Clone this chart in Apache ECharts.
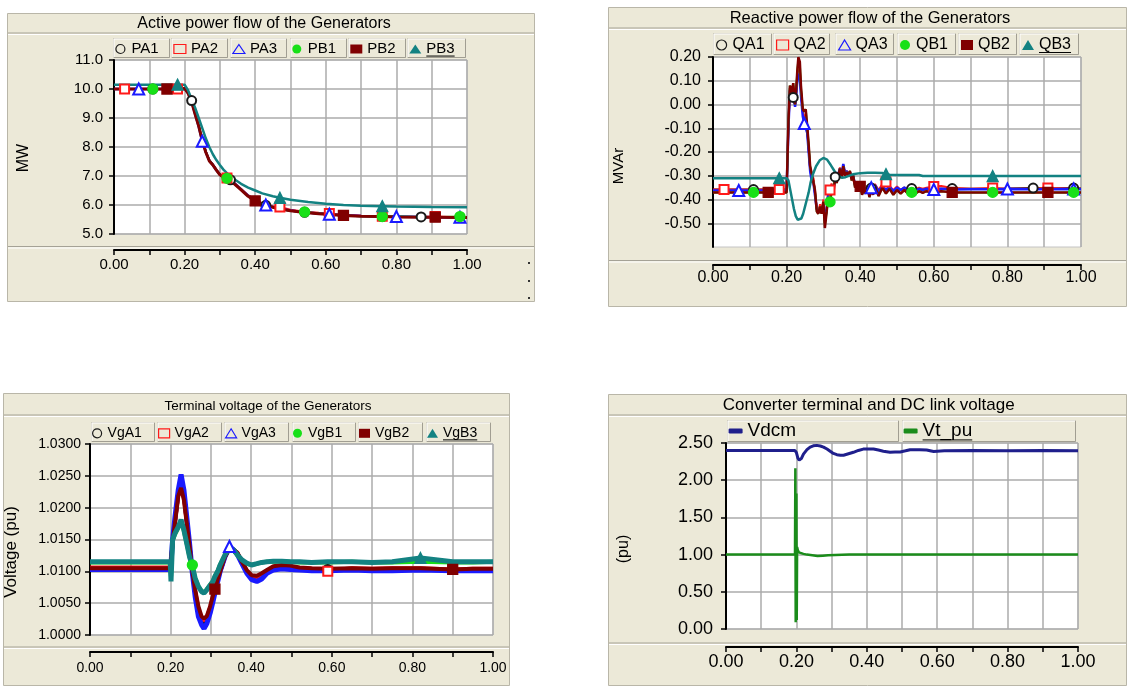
<!DOCTYPE html>
<html>
<head>
<meta charset="utf-8">
<script src="https://cdn.jsdelivr.net/npm/echarts/dist/echarts.min.js"></script>
<style>
  html, body { margin: 0; padding: 0; background: #ffffff; }
  #chart { width: 1127px; height: 686px; }
</style>
</head>
<body>
<div id="chart"></div>
<script>
// ---------------- Active power flow (MW) ----------------
const tP = [0,0.03,0.07,0.11,0.15,0.18,0.2,0.21,0.22,0.23,0.24,0.25,0.26,0.27,0.28,0.29,0.3,0.31,0.32,0.33,0.34,0.36,0.38,0.4,0.42,0.43,0.45,0.47,0.5,0.54,0.58,0.61,0.65,0.7,0.76,0.8,0.87,0.91,0.98,1];
const PA1 = [10,10,10,10,10,10,10.02,9.88,9.6,9.15,8.75,8.25,7.85,7.55,7.4,7.22,7.06,6.97,6.93,6.87,6.75,6.53,6.31,6.15,6.03,5.99,5.93,5.87,5.8,5.75,5.7,5.67,5.64,5.62,5.6,5.6,5.59,5.58,5.58,5.57];
const PA2 = [10,10,10,10,10,10,10.02,9.86,9.57,9.14,8.73,8.23,7.84,7.54,7.39,7.21,7.05,6.97,6.93,6.92,6.78,6.56,6.34,6.18,6.06,6.02,5.96,5.93,5.84,5.77,5.73,5.71,5.66,5.63,5.61,5.6,5.59,5.6,5.58,5.58];
const PA3 = [10,10,10,10,10,10,10.02,9.86,9.56,9.13,8.7,8.2,7.83,7.53,7.38,7.2,7.05,6.98,6.93,6.87,6.76,6.54,6.32,6.15,6.03,6,5.93,5.87,5.81,5.75,5.71,5.68,5.65,5.62,5.6,5.6,5.59,5.58,5.58,5.57];
const PB1 = [10,10,10,10,10,10,10.02,9.86,9.56,9.13,8.72,8.22,7.83,7.53,7.38,7.2,7.04,6.96,6.92,6.88,6.75,6.53,6.31,6.15,6.03,5.99,5.92,5.86,5.8,5.76,5.71,5.68,5.64,5.61,5.6,5.6,5.59,5.58,5.6,5.58];
const PB2 = [10,10,10,10,10,10,10.02,9.85,9.55,9.12,8.72,8.22,7.82,7.52,7.38,7.2,7.04,6.96,6.92,6.86,6.74,6.52,6.3,6.14,6.02,5.99,5.92,5.86,5.8,5.74,5.7,5.67,5.64,5.61,5.6,5.59,5.58,5.58,5.57,5.57];
const tPB3 = [0,0.18,0.2,0.21,0.22,0.23,0.24,0.25,0.26,0.27,0.28,0.29,0.3,0.31,0.32,0.33,0.34,0.36,0.38,0.4,0.42,0.45,0.47,0.5,0.55,0.6,0.65,0.7,0.76,0.8,0.9,1];
const PB3 = [10.15,10.15,10.15,9.95,9.65,9.35,9,8.65,8.3,8,7.75,7.55,7.38,7.22,7.1,7,6.9,6.73,6.6,6.5,6.4,6.3,6.25,6.18,6.1,6.04,6,5.97,5.96,5.95,5.93,5.92];

// ---------------- Reactive power flow (MVAr) ----------------
const tQ = [0,0.03,0.07,0.11,0.15,0.18,0.2,0.205,0.209,0.214,0.218,0.223,0.226,0.229,0.232,0.236,0.239,0.244,0.248,0.252,0.256,0.26,0.264,0.268,0.273,0.277,0.282,0.286,0.291,0.295,0.3,0.304,0.309,0.313,0.318,0.322,0.327,0.332,0.336,0.341,0.345,0.35,0.354,0.359,0.363,0.368,0.372,0.377,0.381,0.386,0.39,0.395,0.4,0.405,0.41,0.415,0.42,0.425,0.43,0.435,0.44,0.45,0.46,0.47,0.48,0.49,0.5,0.51,0.52,0.53,0.54,0.55,0.56,0.57,0.58,0.6,0.62,0.65,0.7,0.76,0.8,0.87,0.91,0.98,1];
const QA1 = [-0.358,-0.358,-0.358,-0.358,-0.358,-0.358,-0.358,
  -0.08,0.07,0.03,0.03,0,0.05,0.12,0.16,0.14,
  0.06,-0.03,-0.06,-0.08,-0.11,-0.19,-0.27,-0.31,-0.32,-0.37,
  -0.44,-0.45,-0.43,-0.45,-0.41,-0.5,-0.44,-0.385,-0.38,-0.345,
  -0.365,-0.305,-0.325,-0.295,-0.27,-0.3,-0.255,-0.295,-0.28,-0.295,
  -0.285,-0.31,-0.3,-0.34,-0.33,-0.355,-0.34,-0.37,-0.35,-0.365,
  -0.345,-0.375,-0.352,-0.365,-0.34,-0.37,-0.345,-0.362,-0.35,-0.368,
  -0.352,-0.362,-0.35,-0.36,-0.354,-0.36,-0.355,-0.36,-0.355,-0.356,
  -0.355,-0.354,-0.355,-0.355,-0.354,-0.352,-0.354,-0.352,-0.354];
const QA2 = [-0.358,-0.358,-0.358,-0.358,-0.358,-0.358,-0.358,
  -0.09,0.07,0.04,0.08,0,0.05,0.13,0.18,0.15,
  0.05,-0.03,-0.05,-0.07,-0.1,-0.18,-0.27,-0.3,-0.31,-0.36,
  -0.44,-0.45,-0.42,-0.45,-0.4,-0.5,-0.43,-0.37,-0.36,-0.333,
  -0.36,-0.3,-0.32,-0.29,-0.265,-0.3,-0.255,-0.29,-0.28,-0.29,
  -0.28,-0.305,-0.3,-0.335,-0.325,-0.35,-0.335,-0.36,-0.345,-0.36,
  -0.34,-0.365,-0.35,-0.36,-0.335,-0.36,-0.335,-0.326,-0.345,-0.36,
  -0.345,-0.36,-0.35,-0.355,-0.35,-0.356,-0.35,-0.355,-0.35,-0.345,
  -0.343,-0.352,-0.355,-0.352,-0.355,-0.355,-0.352,-0.355,-0.355];
const QA3 = [-0.362,-0.362,-0.362,-0.362,-0.362,-0.362,-0.362,
  -0.1,0.06,0.02,0.07,-0.01,0.04,0.1,0.13,0.11,
  0.04,-0.05,-0.08,-0.1,-0.12,-0.2,-0.28,-0.32,-0.33,-0.38,
  -0.44,-0.45,-0.44,-0.45,-0.42,-0.49,-0.44,-0.38,-0.37,-0.34,
  -0.36,-0.3,-0.32,-0.29,-0.27,-0.29,-0.25,-0.29,-0.28,-0.295,
  -0.285,-0.31,-0.3,-0.34,-0.33,-0.35,-0.34,-0.365,-0.35,-0.36,
  -0.345,-0.37,-0.35,-0.36,-0.34,-0.365,-0.345,-0.36,-0.345,-0.365,
  -0.35,-0.36,-0.35,-0.36,-0.355,-0.362,-0.355,-0.36,-0.355,-0.358,
  -0.355,-0.358,-0.357,-0.357,-0.356,-0.357,-0.357,-0.356,-0.357];
const QB1 = [-0.37,-0.37,-0.37,-0.37,-0.37,-0.37,-0.37,
  -0.07,0.08,0.05,0.09,0,0.06,0.14,0.19,0.17,
  0.07,-0.02,-0.03,-0.02,-0.09,-0.17,-0.26,-0.29,-0.29,-0.36,
  -0.45,-0.46,-0.43,-0.46,-0.41,-0.51,-0.45,-0.39,-0.41,-0.38,
  -0.375,-0.31,-0.33,-0.3,-0.27,-0.31,-0.26,-0.3,-0.285,-0.3,
  -0.28,-0.32,-0.3,-0.35,-0.33,-0.36,-0.345,-0.38,-0.36,-0.375,
  -0.35,-0.39,-0.36,-0.38,-0.345,-0.385,-0.35,-0.375,-0.355,-0.38,
  -0.36,-0.375,-0.36,-0.375,-0.37,-0.375,-0.365,-0.372,-0.365,-0.37,
  -0.365,-0.37,-0.37,-0.37,-0.37,-0.37,-0.37,-0.37,-0.37];
const QB2 = [-0.37,-0.37,-0.37,-0.37,-0.37,-0.37,-0.37,
  -0.07,0.08,0.05,0.09,0,0.06,0.14,0.2,0.18,
  0.08,-0.02,-0.03,-0.02,-0.09,-0.17,-0.26,-0.29,-0.29,-0.36,
  -0.45,-0.46,-0.43,-0.46,-0.41,-0.52,-0.45,-0.39,-0.41,-0.355,
  -0.375,-0.31,-0.33,-0.3,-0.27,-0.31,-0.26,-0.3,-0.285,-0.3,
  -0.28,-0.32,-0.3,-0.35,-0.33,-0.36,-0.345,-0.38,-0.36,-0.375,
  -0.35,-0.39,-0.36,-0.38,-0.345,-0.385,-0.35,-0.375,-0.355,-0.38,
  -0.36,-0.375,-0.36,-0.375,-0.365,-0.375,-0.365,-0.372,-0.365,-0.37,
  -0.365,-0.37,-0.37,-0.37,-0.37,-0.37,-0.37,-0.37,-0.37];
const tQB3 = [0,0.18,0.2,0.205,0.21,0.215,0.22,0.225,0.23,0.235,0.24,0.245,0.25,0.255,0.26,0.265,0.27,0.28,0.29,0.3,0.31,0.32,0.33,0.34,0.35,0.36,0.38,0.4,0.42,0.44,0.46,0.47,0.48,0.5,0.56,0.57,0.6,0.76,0.8,1];
const QB3 = [-0.31,-0.31,-0.31,-0.32,-0.36,-0.4,-0.44,-0.47,-0.485,-0.49,-0.48,-0.46,-0.43,-0.4,-0.37,-0.33,-0.3,-0.26,-0.235,-0.225,-0.232,-0.255,-0.28,-0.3,-0.308,-0.306,-0.294,-0.289,-0.287,-0.287,-0.288,-0.293,-0.296,-0.297,-0.297,-0.301,-0.301,-0.301,-0.301,-0.301];
const QTICKS = [-0.5,-0.4,-0.3,-0.2,-0.1,0,0.1,0.2];

// ---------------- Terminal voltage (pu) ----------------
const tV = [0,0.05,0.1,0.15,0.199,0.201,0.205,0.211,0.219,0.226,0.233,0.24,0.247,0.254,0.261,0.269,0.277,0.283,0.29,0.298,0.305,0.31,0.317,0.323,0.335,0.346,0.356,0.366,0.377,0.389,0.401,0.414,0.426,0.439,0.455,0.476,0.497,0.52,0.55,0.59,0.65,0.7,0.75,0.82,0.9,0.95,1];
const VgA1 = [1.0104,1.0104,1.0104,1.0104,1.0104,1.0113,1.0147,1.018,1.0222,1.024,1.022,1.018,1.0141,1.0099,1.0066,1.0037,1.0022,1.0018,1.0024,1.004,1.0057,1.0069,1.0086,1.01,1.0123,1.0137,1.0134,1.0128,1.0114,1.01,1.0091,1.0089,1.0093,1.01,1.0105,1.0107,1.0106,1.0104,1.0103,1.0103,1.0104,1.0103,1.0103,1.0104,1.0102,1.0103,1.0103];
const VgA2 = [1.0106,1.0106,1.0106,1.0106,1.0106,1.0114,1.0146,1.0178,1.022,1.0236,1.0216,1.0178,1.014,1.01,1.0069,1.0041,1.0026,1.0023,1.0028,1.0043,1.006,1.0071,1.0087,1.01,1.0123,1.0136,1.0134,1.0129,1.0115,1.0101,1.0093,1.0091,1.0095,1.0101,1.0106,1.0108,1.0107,1.0105,1.0104,1.01,1.0105,1.0104,1.0105,1.0105,1.0103,1.0104,1.0104];
const VgA3 = [1.0103,1.0103,1.0103,1.0103,1.0103,1.0112,1.015,1.0186,1.0228,1.0252,1.0228,1.0186,1.0144,1.0097,1.006,1.0029,1.0016,1.001,1.0018,1.0034,1.0052,1.0066,1.0084,1.01,1.0123,1.0139,1.0134,1.0126,1.0112,1.0097,1.0087,1.0084,1.0088,1.0097,1.0102,1.0104,1.0103,1.0102,1.0101,1.0101,1.0102,1.0101,1.0101,1.0102,1.0101,1.0101,1.0101];
const VgB1 = [1.0114,1.0114,1.0114,1.0114,1.0114,1.009,1.0148,1.0158,1.0168,1.0178,1.0163,1.0143,1.0122,1.011,1.009,1.0077,1.0069,1.0067,1.0072,1.0079,1.0085,1.0093,1.0101,1.0111,1.0126,1.0135,1.0133,1.0125,1.0117,1.0112,1.011,1.0112,1.0114,1.0115,1.0115,1.0116,1.0115,1.0114,1.0114,1.0114,1.0115,1.0114,1.0114,1.0115,1.0114,1.0114,1.0115];
const VgB2 = [1.0105,1.0105,1.0105,1.0105,1.0105,1.0115,1.0145,1.0176,1.0218,1.0231,1.0212,1.0176,1.0139,1.01,1.0071,1.0045,1.0029,1.0026,1.003,1.0045,1.0062,1.0072,1.0088,1.01,1.0123,1.0135,1.0134,1.0129,1.0115,1.0102,1.0094,1.0093,1.0097,1.0102,1.0108,1.011,1.0109,1.0106,1.0105,1.0104,1.0105,1.0104,1.0105,1.0105,1.0103,1.0104,1.0104];
const VgB3 = [1.0115,1.0115,1.0115,1.0115,1.0115,1.0084,1.015,1.016,1.017,1.0181,1.0165,1.0144,1.0123,1.0108,1.0089,1.0076,1.0068,1.0066,1.0071,1.0078,1.0084,1.0092,1.01,1.011,1.0126,1.0136,1.0134,1.0126,1.0118,1.0113,1.011,1.0112,1.0114,1.0115,1.0116,1.0116,1.0115,1.0115,1.0114,1.0115,1.0115,1.0114,1.0115,1.0121,1.0115,1.0115,1.0115];

// ---------------- Converter terminal / DC link voltage (pu) ----------------
const tD = [0,0.1,0.19,0.196,0.2,0.204,0.208,0.214,0.22,0.23,0.239,0.248,0.258,0.268,0.277,0.287,0.296,0.305,0.315,0.325,0.334,0.348,0.362,0.376,0.39,0.405,0.419,0.433,0.447,0.466,0.48,0.495,0.51,0.523,0.55,0.57,0.59,0.62,0.7,0.8,0.9,1];
const Vdcm = [2.4,2.4,2.4,2.4,2.37,2.3,2.27,2.29,2.35,2.41,2.445,2.462,2.468,2.46,2.445,2.42,2.39,2.36,2.343,2.335,2.335,2.355,2.375,2.4,2.418,2.42,2.419,2.405,2.39,2.375,2.378,2.38,2.395,2.41,2.41,2.406,2.385,2.395,2.398,2.397,2.398,2.397];
const tT = [0,0.1,0.19,0.196,0.197,0.198,0.199,0.2,0.201,0.202,0.204,0.207,0.212,0.22,0.23,0.245,0.26,0.275,0.29,0.31,0.35,0.4,0.5,0.6,0.7,0.8,0.9,1];
const Vt_pu = [1,1,1,1,2.16,0.09,1.2,1.82,0.12,1.1,1.06,1.03,1.02,1.01,1,0.99,0.98,0.985,0.99,0.995,1,1,1,1,1,1,1,1];

// Times at which each trace carries its marker symbol
const MARK = {
  A1: [0.11, 0.22, 0.33, 0.43, 0.54, 0.65, 0.76, 0.87, 0.98],
  A2: [0.03, 0.18, 0.32, 0.47, 0.61, 0.76, 0.91],
  A3: [0.07, 0.25, 0.43, 0.61, 0.8, 0.98],
  B1: [0.11, 0.32, 0.54, 0.76, 0.98],
  B2: [0.15, 0.4, 0.65, 0.91],
  B3: [0.18, 0.47, 0.76]
};
const MARK_V = { A1: [0.59], A2: [0.59], A3: [0.346], B1: [0.254], B2: [0.31, 0.9], B3: [0.82] };

// ---------------- styling ----------------
const FONT = '"Liberation Sans", Arial, sans-serif';
const BEIGE = '#ece9d8';
const COLOR = { A1: '#1a1a1a', A2: '#ff1a1a', A3: '#1a1aff', B1: '#18e018', B2: '#800000', B3: '#138282', DC: '#1f1f8c', VT: '#1b8c1b' };
const SHAPE = { A1: 'emptyCircle', A2: 'emptyRect', A3: 'emptyTriangle', B1: 'circle', B2: 'rect', B3: 'triangle' };
const LEG_ICON = { A1: 'circle', A2: 'rect', A3: 'triangle', B1: 'circle', B2: 'rect', B3: 'triangle', DC: 'roundRect', VT: 'roundRect' };
const SYM_SIZE = { A1: 9, A2: 9, A3: 11, B1: 10, B2: 10, B3: 11 };

const panels = [
  {
    box: { x: 7, y: 13, w: 528, h: 289 }, titleLine: 33,
    title: 'Active power flow of the Generators', titleX: 264, titleY: 23.5, titleSize: 16,
    grid: { left: 114, top: 60, width: 353, height: 174 }, sepY: 246.5,
    xOffset: 16, xMargin: 7, tickSize: 15, yMargin: 11,
    y: { min: 5, max: 11, interval: 1, digits: 1 },
    yName: 'MW', yNameX: 24, yNameY: 158, yNameSize: 16,
    legend: { size: 15, lh: 18, top: 40, y0: 38, y1: 58, iw: 12, ih: 9, dx: 2.3,
      boxes: [[113, 170], [171, 228], [230, 287], [290, 347], [348, 406], [407, 466]] },
    series: [
      { name: 'PA1', key: 'A1', t: tP, v: PA1, width: 2 },
      { name: 'PA2', key: 'A2', t: tP, v: PA2, width: 2 },
      { name: 'PA3', key: 'A3', t: tP, v: PA3, width: 2.5 },
      { name: 'PB1', key: 'B1', t: tP, v: PB1, width: 2 },
      { name: 'PB2', key: 'B2', t: tP, v: PB2, width: 3 },
      { name: 'PB3', key: 'B3', t: tPB3, v: PB3, width: 2.5 }
    ]
  },
  {
    box: { x: 608, y: 7, w: 519, h: 300 }, titleLine: 28,
    title: 'Reactive power flow of the Generators', titleX: 870, titleY: 18.3, titleSize: 16.5,
    grid: { left: 713, top: 57, width: 368, height: 190 }, sepY: 260.5,
    xOffset: 18, xMargin: 5, tickSize: 16, yMargin: 12,
    y: { min: -0.6, max: 0.2, interval: 0.1, digits: 2, hideBelow: -0.55, ticks: QTICKS },
    yName: 'MVAr', yNameX: 619, yNameY: 166, yNameSize: 15,
    legend: { size: 16, lh: 19, top: 35.5, y0: 33, y1: 55, iw: 12, ih: 10, dx: 3,
      boxes: [[713, 772], [773, 830], [835, 894], [897, 956], [958, 1017], [1019, 1079]] },
    series: [
      { name: 'QA1', key: 'A1', t: tQ, v: QA1, width: 2 },
      { name: 'QA2', key: 'A2', t: tQ, v: QA2, width: 2 },
      { name: 'QA3', key: 'A3', t: tQ, v: QA3, width: 2.5 },
      { name: 'QB1', key: 'B1', t: tQ, v: QB1, width: 2 },
      { name: 'QB2', key: 'B2', t: tQ, v: QB2, width: 2.5 },
      { name: 'QB3', key: 'B3', t: tQB3, v: QB3, width: 2.5 }
    ]
  },
  {
    box: { x: 3, y: 393, w: 507, h: 293 }, titleLine: 415,
    title: 'Terminal voltage of the Generators', titleX: 268, titleY: 406, titleSize: 13.5,
    grid: { left: 90, top: 444, width: 403, height: 191 }, sepY: 647,
    xOffset: 17, xMargin: 9, tickSize: 14, yMargin: 9,
    y: { min: 1.0, max: 1.03, interval: 0.005, digits: 4 },
    yName: 'Voltage (pu)', yNameX: 11, yNameY: 552, yNameSize: 17,
    legend: { size: 14, lh: 17, top: 424.8, y0: 422, y1: 442, iw: 11, ih: 9, dx: 1,
      boxes: [[91, 155], [157, 222], [224, 289], [292, 356], [358, 423], [426, 491]] },
    marks: MARK_V,
    series: [
      { name: 'VgA1', key: 'A1', t: tV, v: VgA1, width: 4 },
      { name: 'VgA2', key: 'A2', t: tV, v: VgA2, width: 4 },
      { name: 'VgA3', key: 'A3', t: tV, v: VgA3, width: 5 },
      { name: 'VgB1', key: 'B1', t: tV, v: VgB1, width: 4 },
      { name: 'VgB2', key: 'B2', t: tV, v: VgB2, width: 4 },
      { name: 'VgB3', key: 'B3', t: tV, v: VgB3, width: 5 }
    ]
  },
  {
    box: { x: 608, y: 394, w: 519, h: 292 }, titleLine: 415,
    title: 'Converter terminal and DC link voltage', titleX: 868.7, titleY: 405.7, titleSize: 17,
    grid: { left: 726, top: 443, width: 352, height: 186 }, sepY: 643,
    xOffset: 18, xMargin: 6, tickSize: 18, yMargin: 13,
    y: { min: 0, max: 2.5, interval: 0.5, digits: 2 },
    yName: '(pu)', yNameX: 624, yNameY: 549, yNameSize: 16,
    legend: { size: 19, lh: 22, top: 420, y0: 420, y1: 442, iw: 14, ih: 5, dx: 1.6,
      boxes: [[727, 899], [902, 1076]] },
    series: [
      { name: 'Vdcm', key: 'DC', t: tD, v: Vdcm, width: 3 },
      { name: 'Vt_pu', key: 'VT', t: tT, v: Vt_pu, width: 2.5 }
    ]
  }
];

// index of the sample nearest to each marker time
function nearestIndices(t, times) {
  const s = new Set();
  times.forEach(m => {
    let best = 0;
    t.forEach((x, i) => { if (Math.abs(x - m) < Math.abs(t[best] - m)) best = i; });
    s.add(best);
  });
  return s;
}

const measureCtx = document.createElement('canvas').getContext('2d');
function textWidth(txt, size) {
  measureCtx.font = size + 'px "Liberation Sans"';
  return measureCtx.measureText(txt).width;
}

function hline(x1, x2, y, color, w) {
  return { type: 'line', z: -9, silent: true, shape: { x1: x1, y1: y, x2: x2, y2: y }, style: { stroke: color, lineWidth: w || 1 } };
}

const grids = [], xAxes = [], yAxes = [], series = [], legends = [], graphics = [];

panels.forEach((p, pi) => {
  const b = p.box;
  // panel frame
  graphics.push({ type: 'rect', z: -10, silent: true,
    shape: { x: b.x + 0.5, y: b.y + 0.5, width: b.w - 1, height: b.h - 1 },
    style: { fill: BEIGE, stroke: '#b9b6a8', lineWidth: 1 } });
  graphics.push(hline(b.x + 1, b.x + b.w - 1, p.titleLine, '#a5a296'));
  graphics.push(hline(b.x + 1, b.x + b.w - 1, p.titleLine + 1.5, '#ffffff'));
  graphics.push(hline(b.x + 1, b.x + b.w - 1, p.sepY, '#a5a296'));
  graphics.push(hline(b.x + 1, b.x + b.w - 1, p.sepY + 1.5, '#ffffff'));
  graphics.push({ type: 'text', z: 5, silent: true, x: p.titleX, y: p.titleY,
    style: { text: p.title, fontSize: p.titleSize, fontFamily: FONT, fill: '#000', align: 'center', verticalAlign: 'middle' } });
  graphics.push({ type: 'text', z: 5, silent: true, x: p.yNameX, y: p.yNameY, rotation: Math.PI / 2,
    style: { text: p.yName, fontSize: p.yNameSize, fontFamily: FONT, fill: '#000', align: 'center', verticalAlign: 'middle' } });

  grids.push(Object.assign({ show: true, backgroundColor: '#ffffff', borderColor: '#c4c4c4', borderWidth: 1, containLabel: false }, p.grid));

  xAxes.push({
    gridIndex: pi, type: 'value', min: 0, max: 1, interval: 0.1, offset: p.xOffset,
    axisLine: { show: true, onZero: false, lineStyle: { color: '#000', width: 2 } },
    axisTick: { show: true, length: 5, lineStyle: { color: '#000', width: 1.5 } },
    axisLabel: { fontSize: p.tickSize, fontFamily: FONT, color: '#000', margin: p.xMargin,
      formatter: v => (Math.round(v * 10) % 2 === 0 ? v.toFixed(2) : '') },
    splitLine: { show: true, lineStyle: { color: '#ababab', width: 1.5 } }
  });

  const yc = p.y;
  const yTick = { show: true, length: 5, lineStyle: { color: '#000', width: 1.5 } };
  if (yc.ticks) yTick.customValues = yc.ticks;
  yAxes.push({
    gridIndex: pi, type: 'value', min: yc.min, max: yc.max, interval: yc.interval,
    axisLine: { show: true, onZero: false, lineStyle: { color: '#000', width: 2 } },
    axisTick: yTick,
    axisLabel: { fontSize: p.tickSize, fontFamily: FONT, color: '#000', margin: p.yMargin,
      formatter: v => {
        if (yc.hideBelow !== undefined && v < yc.hideBelow) return '';
        if (Math.abs(v) < 1e-9) v = 0;
        return v.toFixed(yc.digits);
      } },
    splitLine: { show: true, lineStyle: { color: '#ababab', width: 1.5 } }
  });

  const marksTable = p.marks || MARK;
  const lg = p.legend;
  p.series.forEach((s, si) => {
    const color = COLOR[s.key];
    const shape = SHAPE[s.key];
    const marks = shape ? nearestIndices(s.t, marksTable[s.key] || []) : new Set();
    series.push({
      type: 'line', name: s.name, xAxisIndex: pi, yAxisIndex: pi,
      data: s.t.map((x, i) => [x, s.v[i]]),
      symbol: (val, params) => (marks.has(params.dataIndex) ? shape : 'none'),
      symbolSize: SYM_SIZE[s.key] || 8,
      showSymbol: true,
      lineStyle: { color: color, width: s.width },
      itemStyle: { color: color, borderColor: color, borderWidth: 1.3 },
      emphasis: { disabled: true },
      silent: true, animation: false
    });

    // one framed legend entry per trace
    const [x0, x1] = lg.boxes[si];
    graphics.push({ type: 'rect', z: -9, silent: true,
      shape: { x: x0 + 0.5, y: lg.y0 + 0.5, width: x1 - x0 - 1, height: lg.y1 - lg.y0 - 1 },
      style: { fill: BEIGE, stroke: '#c9c6b8', lineWidth: 1 } });
    graphics.push({ type: 'polyline', z: -8, silent: true,
      shape: { points: [[x0 + 1, lg.y1 - 1], [x0 + 1, lg.y0 + 1], [x1 - 1, lg.y0 + 1]] },
      style: { stroke: '#ffffff', lineWidth: 1, fill: null } });
    graphics.push({ type: 'polyline', z: -8, silent: true,
      shape: { points: [[x0 + 1, lg.y1 - 0.5], [x1 - 0.5, lg.y1 - 0.5], [x1 - 0.5, lg.y0 + 1]] },
      style: { stroke: '#a19e92', lineWidth: 1, fill: null } });

    const open = shape && shape.indexOf('empty') === 0;
    legends.push({
      data: [{ name: s.name, icon: LEG_ICON[s.key],
        itemStyle: open ? { color: 'rgba(0,0,0,0)', borderColor: color, borderWidth: 1.2 } : { color: color, borderWidth: 0 } }],
      left: x0 + lg.dx, top: lg.top, padding: 0, itemGap: 0,
      itemWidth: lg.iw, itemHeight: lg.ih,
      textStyle: { fontSize: lg.size, fontFamily: FONT, color: '#000', lineHeight: lg.lh },
      selectedMode: false
    });

    // the last entry of each legend row is shown underlined
    if (si === p.series.length - 1) {
      const tx = x0 + lg.dx + lg.iw + 5;
      const ty = lg.top + lg.lh / 2 + lg.size * 0.47;
      graphics.push({ type: 'line', z: 6, silent: true,
        shape: { x1: tx, y1: ty, x2: tx + textWidth(s.name, lg.size), y2: ty },
        style: { stroke: '#000', lineWidth: 1 } });
    }
  });
});

// small dots at the right edge of the first panel
[263, 281, 298].forEach(y => graphics.push({ type: 'rect', z: 5, silent: true,
  shape: { x: 528, y: y - 1, width: 2, height: 2 }, style: { fill: '#333' } }));

const chart = echarts.init(document.getElementById('chart'), null, { renderer: 'canvas' });
chart.setOption({
  backgroundColor: '#ffffff',
  animation: false,
  grid: grids,
  xAxis: xAxes,
  yAxis: yAxes,
  legend: legends,
  series: series,
  graphic: { elements: graphics }
});
</script>
</body>
</html>
